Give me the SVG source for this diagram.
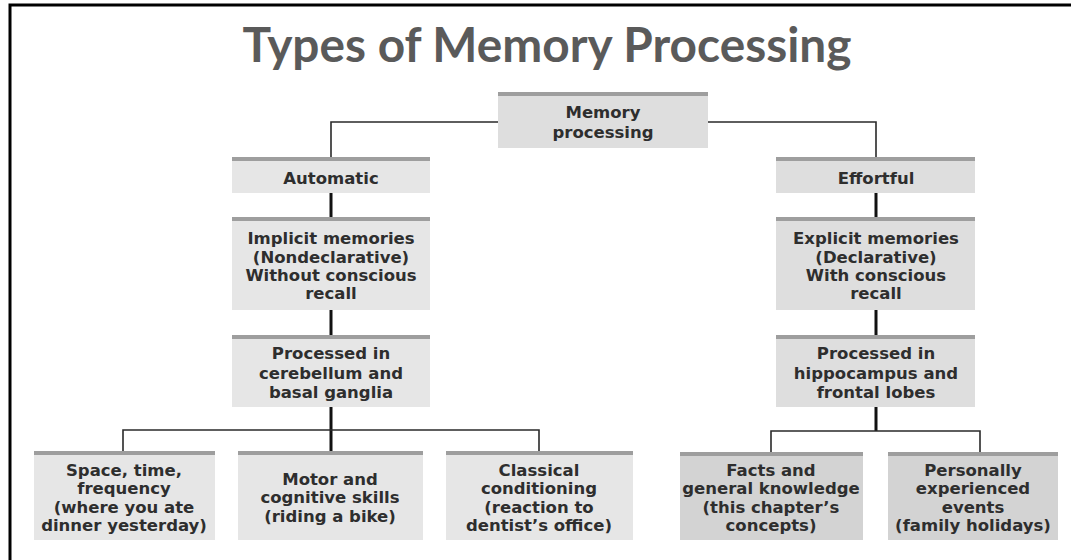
<svg xmlns="http://www.w3.org/2000/svg" width="1071" height="560" viewBox="0 0 1071 560">
<style>
.title{font-family:Lato,"Open Sans","Liberation Sans",sans-serif;font-weight:700;font-size:47px;fill:#5a5a5a}
.t{font-family:"DejaVu Sans","Liberation Sans",sans-serif;font-weight:700;font-size:16.5px;fill:#2e2e2e;text-anchor:middle}
.bx{fill:#e6e6e6}
.bxr{fill:#dedede}
.bxd{fill:#d3d3d3}
.bar{fill:#9e9e9e}
.thin{stroke:#2a2a2a;stroke-width:1.6;fill:none}
.thick{stroke:#111;stroke-width:3;fill:none}
</style>
<rect x="0" y="0" width="1071" height="560" fill="#fff"/>
<path d="M10 560 V5 H1071" fill="none" stroke="#000" stroke-width="3"/>
<text class="title" x="547" y="62" text-anchor="middle" textLength="609" lengthAdjust="spacingAndGlyphs">Types of Memory Processing</text>

<g id="connectors">
<path class="thin" d="M498 122 H331 V157"/>
<path class="thin" d="M708 122 H876 V157"/>
<path class="thick" d="M331 193 V217"/>
<path class="thick" d="M331 310 V335"/>
<path class="thick" d="M331 407 V451"/>
<path class="thin" d="M123 451 V430 H539 V451"/>
<path class="thick" d="M876 193 V217"/>
<path class="thick" d="M876 310 V335"/>
<path class="thick" d="M876 407 V431"/>
<path class="thin" d="M771 452 V431 H980 V452"/>
</g>

<g id="memory-processing">
<rect class="bxr" x="498" y="92" width="210" height="56"/>
<rect class="bar" x="498" y="92" width="210" height="4"/>
<text class="t" x="603" y="118">Memory</text>
<text class="t" x="603" y="138">processing</text>
</g>

<g id="automatic">
<rect class="bx" x="232" y="157" width="198" height="36"/>
<rect class="bar" x="232" y="157" width="198" height="4"/>
<text class="t" x="331" y="184">Automatic</text>
</g>

<g id="implicit">
<rect class="bx" x="232" y="217" width="198" height="93"/>
<rect class="bar" x="232" y="217" width="198" height="4"/>
<text class="t" x="331" y="244">Implicit memories</text>
<text class="t" x="331" y="263">(Nondeclarative)</text>
<text class="t" x="331" y="281">Without conscious</text>
<text class="t" x="331" y="299">recall</text>
</g>

<g id="processed-left">
<rect class="bx" x="232" y="335" width="198" height="72"/>
<rect class="bar" x="232" y="335" width="198" height="4"/>
<text class="t" x="331" y="359">Processed in</text>
<text class="t" x="331" y="379">cerebellum and</text>
<text class="t" x="331" y="398">basal ganglia</text>
</g>

<g id="effortful">
<rect class="bxr" x="776" y="157" width="199" height="36"/>
<rect class="bar" x="776" y="157" width="199" height="4"/>
<text class="t" x="876" y="184">Effortful</text>
</g>

<g id="explicit">
<rect class="bxr" x="776" y="217" width="199" height="93"/>
<rect class="bar" x="776" y="217" width="199" height="4"/>
<text class="t" x="876" y="244">Explicit memories</text>
<text class="t" x="876" y="263">(Declarative)</text>
<text class="t" x="876" y="281">With conscious</text>
<text class="t" x="876" y="299">recall</text>
</g>

<g id="processed-right">
<rect class="bxr" x="776" y="335" width="199" height="72"/>
<rect class="bar" x="776" y="335" width="199" height="4"/>
<text class="t" x="876" y="359">Processed in</text>
<text class="t" x="876" y="379">hippocampus and</text>
<text class="t" x="876" y="398">frontal lobes</text>
</g>

<g id="space-time">
<rect class="bx" x="34" y="451" width="181" height="89"/>
<rect class="bar" x="34" y="451" width="181" height="4"/>
<text class="t" x="124" y="476">Space, time,</text>
<text class="t" x="124" y="494">frequency</text>
<text class="t" x="124" y="513">(where you ate</text>
<text class="t" x="124" y="531">dinner yesterday)</text>
</g>

<g id="motor">
<rect class="bx" x="238" y="451" width="185" height="89"/>
<rect class="bar" x="238" y="451" width="185" height="4"/>
<text class="t" x="330" y="485">Motor and</text>
<text class="t" x="330" y="503">cognitive skills</text>
<text class="t" x="330" y="522">(riding a bike)</text>
</g>

<g id="classical">
<rect class="bx" x="446" y="451" width="187" height="89"/>
<rect class="bar" x="446" y="451" width="187" height="4"/>
<text class="t" x="539" y="476">Classical</text>
<text class="t" x="539" y="494">conditioning</text>
<text class="t" x="539" y="513">(reaction to</text>
<text class="t" x="539" y="531">dentist’s office)</text>
</g>

<g id="facts">
<rect class="bxd" x="680" y="452" width="183" height="88"/>
<rect class="bar" x="680" y="452" width="183" height="4"/>
<text class="t" x="771" y="476">Facts and</text>
<text class="t" x="771" y="494">general knowledge</text>
<text class="t" x="771" y="513">(this chapter’s</text>
<text class="t" x="771" y="531">concepts)</text>
</g>

<g id="personal">
<rect class="bxd" x="888" y="452" width="170" height="88"/>
<rect class="bar" x="888" y="452" width="170" height="4"/>
<text class="t" x="973" y="476">Personally</text>
<text class="t" x="973" y="494">experienced</text>
<text class="t" x="973" y="513">events</text>
<text class="t" x="973" y="531">(family holidays)</text>
</g>
</svg>
